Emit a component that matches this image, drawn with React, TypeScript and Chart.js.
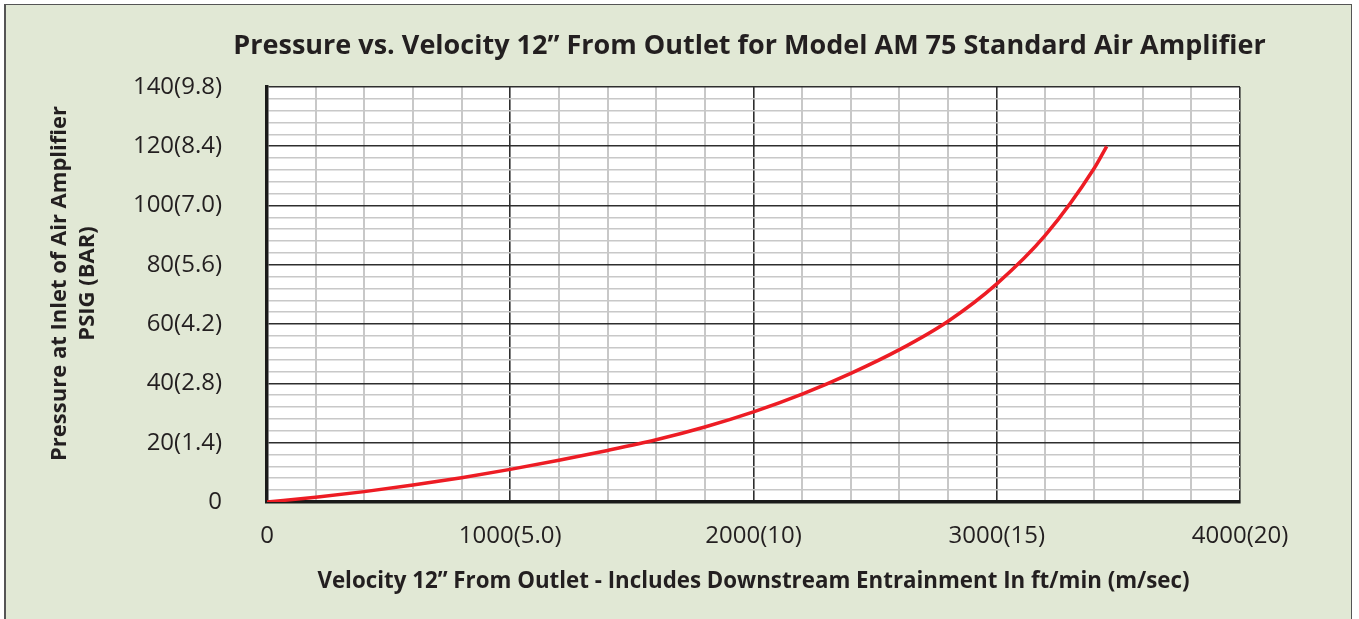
import React, { useEffect, useRef } from "react";
import { Chart, registerables } from "chart.js";

Chart.register(...registerables);

// ---- data ----
const velocityFtMin = [0, 200, 400, 600, 800, 1000, 1200, 1400, 1600, 1800, 2000, 2200, 2400, 2600, 2800, 3000, 3200, 3400, 3452];
const pressurePsig = [0, 1.6, 3.5, 5.7, 8.2, 11.0, 14.1, 17.4, 21.0, 25.3, 30.4, 36.4, 43.4, 51.4, 61.0, 73.6, 90.0, 112.5, 120];

const xMajorValues = [0, 1000, 2000, 3000, 4000];
const xMajorLabels = ["0", "1000(5.0)", "2000(10)", "3000(15)", "4000(20)"];
const yMajorValues = [0, 20, 40, 60, 80, 100, 120, 140];
const yMajorLabels = ["0", "20(1.4)", "40(2.8)", "60(4.2)", "80(5.6)", "100(7.0)", "120(8.4)", "140(9.8)"];

const titleText = "Pressure vs. Velocity 12\u201D From Outlet for Model AM 75 Standard Air Amplifier";
const xTitle = "Velocity 12\u201D From Outlet - Includes Downstream Entrainment In ft/min (m/sec)";
const yTitle = ["Pressure at Inlet of Air Amplifier", "PSIG (BAR)"];

const FONT = "'Open Sans', 'Liberation Sans', sans-serif";
const TEXT = "#231f20";
const MAJOR = "#2e2e2e";
const MINOR = "#c8c8c8";

const plotBg = {
  id: "plotBg",
  beforeDraw(chart: any) {
    const { ctx, chartArea } = chart;
    ctx.save();
    ctx.fillStyle = "#ffffff";
    ctx.fillRect(chartArea.left, chartArea.top, chartArea.right - chartArea.left, chartArea.bottom - chartArea.top);
    ctx.restore();
  },
};

// chart title (centred over the plot area, not squeezed) and rotated y-axis title
const titles = {
  id: "titles",
  afterDraw(chart: any) {
    const { ctx, chartArea } = chart;
    const cx = (chartArea.left + chartArea.right) / 2;
    const cy = (chartArea.top + chartArea.bottom) / 2 - 11;
    ctx.save();
    ctx.fillStyle = TEXT;
    ctx.textAlign = "center";
    ctx.textBaseline = "middle";
    ctx.font = `bold 27px ${FONT}`;
    ctx.fillText(titleText, cx - 4, chartArea.top - 41);
    ctx.font = `bold 22px ${FONT}`;
    yTitle.forEach((line, i) => {
      ctx.save();
      ctx.translate(60 + i * 28, cy);
      ctx.rotate(-Math.PI / 2);
      ctx.fillText(line, 0, 0);
      ctx.restore();
    });
    ctx.restore();
  },
};

export default function App() {
  const ref = useRef<HTMLCanvasElement | null>(null);

  useEffect(() => {
    if (!ref.current) return;
    const points = velocityFtMin.map((v, i) => ({ x: v, y: pressurePsig[i] }));
    const chart = new Chart(ref.current, {
      type: "line",
      data: {
        datasets: [
          {
            data: points,
            borderColor: "#ed1c24",
            borderWidth: 3.5,
            pointRadius: 0,
            cubicInterpolationMode: "monotone",
            fill: false,
          },
        ],
      },
      options: {
        animation: false,
        responsive: false,
        devicePixelRatio: 1,
        layout: { padding: { left: 0, right: 119, top: 87, bottom: 0 } },
        plugins: {
          legend: { display: false },
          tooltip: { enabled: false },
          title: { display: false },
        },
        scales: {
          x: {
            type: "linear",
            min: 0,
            max: 4000,
            afterFit: (s: any) => {
              s.height = 117;
            },
            ticks: {
              stepSize: 200,
              autoSkip: false,
              maxRotation: 0,
              padding: 20,
              color: TEXT,
              font: { family: FONT, size: 24 },
              callback: (v: any) => {
                const i = xMajorValues.indexOf(Number(v));
                return i >= 0 ? xMajorLabels[i] : "";
              },
            },
            grid: {
              drawTicks: false,
              color: (c: any) => (c.tick && c.tick.value % 1000 === 0 ? MAJOR : MINOR),
              lineWidth: (c: any) => (c.tick && c.tick.value % 1000 === 0 ? 1.6 : 2),
            },
            border: { display: true, color: "#1a1a1a", width: 3.5 },
            title: {
              display: true,
              text: xTitle,
              color: TEXT,
              font: { family: FONT, size: 22.3, weight: "bold" },
              padding: { top: 0, bottom: 24 },
            },
          },
          y: {
            type: "linear",
            min: 0,
            max: 140,
            afterFit: (s: any) => {
              s.width = 267;
            },
            ticks: {
              stepSize: 4,
              autoSkip: false,
              padding: 45,
              color: TEXT,
              font: { family: FONT, size: 24 },
              callback: (v: any) => {
                const i = yMajorValues.indexOf(Number(v));
                return i >= 0 ? yMajorLabels[i] : "";
              },
            },
            grid: {
              drawTicks: false,
              color: (c: any) => (c.tick && c.tick.value % 20 === 0 ? MAJOR : MINOR),
              lineWidth: 1.6,
            },
            border: { display: true, color: "#1a1a1a", width: 3.5 },
            title: { display: false },
          },
        },
      },
      plugins: [plotBg, titles],
    } as any);
    return () => chart.destroy();
  }, []);

  return (
    <div style={{ position: "fixed", top: 0, left: 0, width: 1359, height: 619, background: "#ffffff", overflow: "hidden" }}>
      <div
        style={{
          position: "absolute",
          top: 4,
          left: 4,
          width: 1345,
          height: 640,
          background: "#e1e8d5",
          border: "1px solid #555555",
          borderLeft: "2px solid #555555",
        }}
      />
      <canvas ref={ref} width={1359} height={619} style={{ position: "absolute", top: 0, left: 0, width: 1359, height: 619 }} />
    </div>
  );
}
